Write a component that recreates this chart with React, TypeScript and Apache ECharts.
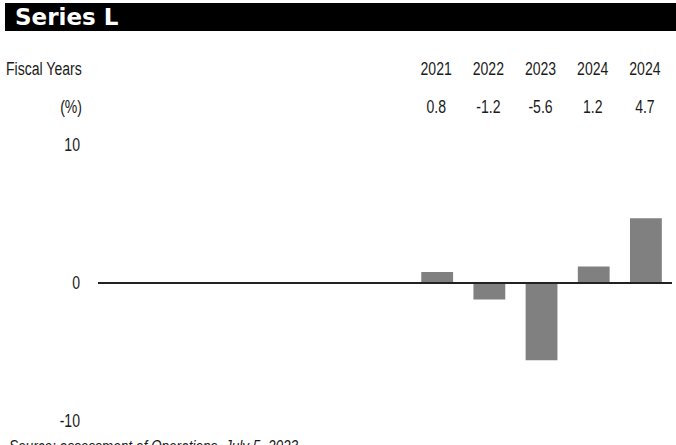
import React, { useEffect, useRef } from "react";
import * as echarts from "echarts";

const title = "Series L";
const headerLabel = "Fiscal Years";
const unitLabel = "(%)";
const footnote = "Source: assessment of Operations, July 5, 2023";
const categories = ["", "", "", "", "", "", "2021", "2022", "2023", "2024", "2024"];
const values: (number | null)[] = [null, null, null, null, null, null, 0.8, -1.2, -5.6, 1.2, 4.7];
const yTickValues = [10, 0, -10];
const yRange = { min: -10, max: 10, interval: 10 };

const FONT = "'Liberation Sans', Arial, sans-serif";
const SX = 0.74;
const INK = "#1a1a1a";

export default function App() {
  const ref = useRef<HTMLDivElement>(null);
  useEffect(() => {
    if (!ref.current) return;
    const chart = echarts.init(ref.current, null, { renderer: "svg" });
    chart.setOption({
      animation: false,
      backgroundColor: "#fff",
      grid: { left: 98, right: 4, top: 145, bottom: 24 },
      xAxis: {
        type: "category",
        data: categories,
        axisLine: { show: false },
        axisTick: { show: false },
        axisLabel: { show: false },
      },
      yAxis: {
        type: "value",
        min: yRange.min,
        max: yRange.max,
        interval: yRange.interval,
        axisLine: { show: false },
        axisTick: { show: false },
        splitLine: { show: false },
        axisLabel: { show: false },
      },
      series: [
        {
          type: "bar",
          data: values,
          barWidth: "61%",
          itemStyle: { color: "#808080" },
          markLine: {
            silent: true,
            symbol: "none",
            label: { show: false },
            lineStyle: { color: "#222", width: 2, type: "solid" },
            data: [{ yAxis: 0 }],
          },
        },
      ],
    });

    const txt = (text: string, x: number, y: number, align: string, extra: any = {}) => ({
      type: "text",
      x,
      y,
      scaleX: SX,
      style: {
        text,
        fill: INK,
        font: `19px ${FONT}`,
        align,
        verticalAlign: "middle",
        ...extra,
      },
    });

    const graphics: any[] = [
      { type: "rect", shape: { x: 5, y: 3, width: 671, height: 28 }, style: { fill: "#000" } },
      {
        type: "text",
        x: 15,
        y: 17,
        style: {
          text: title,
          fill: "#fff",
          font: "bold 23px 'DejaVu Sans', sans-serif",
          verticalAlign: "middle",
        },
      },
      txt(headerLabel, 6, 69, "left"),
      txt(unitLabel, 82, 107, "right"),
      {
        type: "text",
        x: 9,
        y: 437,
        scaleX: 0.8,
        style: { text: footnote, fill: INK, font: `italic 17px ${FONT}`, verticalAlign: "top" },
      },
    ];

    categories.forEach((c, i) => {
      const v = values[i];
      if (!c || v === null) return;
      const px = chart.convertToPixel({ xAxisIndex: 0 }, i) as number;
      graphics.push(txt(c, px - 1, 69, "center"));
      graphics.push(txt(v.toFixed(1), px - 1, 107, "center"));
    });

    yTickValues.forEach((t) => {
      const py = chart.convertToPixel({ yAxisIndex: 0 }, t) as number;
      graphics.push(txt(String(t), 80, py, "right"));
    });

    chart.setOption({ graphic: graphics });
    return () => chart.dispose();
  }, []);
  return <div ref={ref} style={{ position: "fixed", left: 0, top: 0, width: 676, height: 445 }} />;
}
